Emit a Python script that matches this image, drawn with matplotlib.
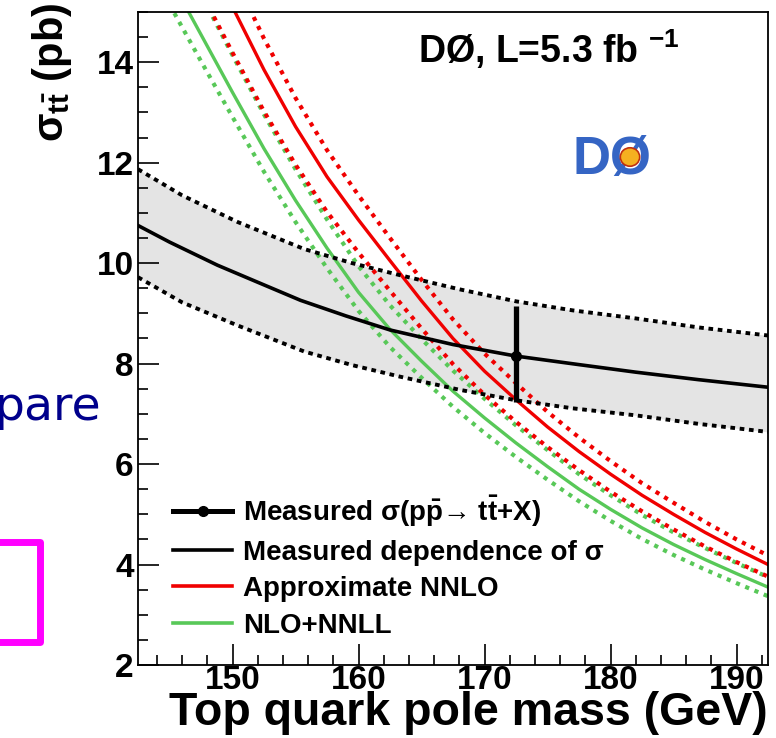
import matplotlib
matplotlib.use("Agg")
import matplotlib.pyplot as plt
from matplotlib.lines import Line2D
from matplotlib.patches import Rectangle, Circle

plt.rcParams['font.family'] = ['Liberation Sans', 'DejaVu Sans']
plt.rcParams['font.weight'] = 'bold'
plt.rcParams['mathtext.fontset'] = 'custom'
plt.rcParams['mathtext.rm'] = 'Liberation Sans:bold'
plt.rcParams['mathtext.bf'] = 'Liberation Sans:bold'
plt.rcParams['mathtext.it'] = 'Liberation Sans:bold'

# ---------------- data ----------------
# measured dependence of sigma on mt (central and band edges)
meas_mass = [142.5, 145, 148.8, 152, 155.4, 159, 162.5, 167.5, 172.5, 177.5, 182, 187, 192.5]
meas_sigma = [10.75, 10.42, 9.96, 9.62, 9.26, 8.95, 8.67, 8.38, 8.15, 7.98, 7.83, 7.68, 7.53]
band_mass = [142.5, 146, 150.4, 155.7, 159.5, 163.3, 168, 172.5, 177, 182, 187, 192.5]
band_upper = [11.87, 11.35, 10.82, 10.28, 10.0, 9.76, 9.48, 9.24, 9.06, 8.90, 8.72, 8.56]
band_lower = [9.72, 9.22, 8.76, 8.24, 7.97, 7.74, 7.48, 7.27, 7.11, 6.97, 6.80, 6.64]

# measured point
point_mass = 172.5
point_sigma = 8.15
point_err_up = 0.99
point_err_down = 0.91

# theory predictions
th_mass = [145, 147.5, 150, 152.5, 155, 157.5, 160, 162.5, 165, 167.5, 170,
           172.5, 175, 177.5, 180, 182.5, 185, 187.5, 190, 192.5]
nnlo = [17.8, 16.4, 15.1, 13.85, 12.72, 11.72, 10.86, 10.05, 9.25, 8.5, 7.85,
        7.28, 6.74, 6.25, 5.8, 5.38, 5.0, 4.64, 4.31, 4.0]
nnlo_up = [18.6, 17.1, 15.78, 14.47, 13.29, 12.25, 11.35, 10.50, 9.67, 8.88, 8.20,
           7.61, 7.04, 6.53, 6.06, 5.62, 5.23, 4.85, 4.50, 4.18]
nnlo_down = [16.7, 15.4, 14.19, 13.02, 11.96, 11.02, 10.21, 9.45, 8.70, 7.99, 7.38,
             6.84, 6.34, 5.88, 5.45, 5.06, 4.70, 4.36, 4.05, 3.76]
nnll = [15.7, 14.55, 13.4, 12.28, 11.25, 10.3, 9.42, 8.68, 8.05, 7.45, 6.92,
        6.42, 5.95, 5.5, 5.1, 4.73, 4.4, 4.1, 3.82, 3.55]
nnll_up = [16.56, 15.35, 14.14, 12.96, 11.87, 10.87, 9.94, 9.16, 8.49, 7.86, 7.30,
           6.77, 6.28, 5.80, 5.38, 4.99, 4.64, 4.33, 4.03, 3.75]
nnll_down = [15.15, 14.02, 12.91, 11.82, 10.82, 9.90, 9.05, 8.33, 7.72, 7.14, 6.62,
             6.14, 5.69, 5.26, 4.87, 4.51, 4.19, 3.90, 3.63, 3.37]

legend_labels = ['Measured σ(p$\\bar{\\mathrm{p}}$\u2192 t$\\bar{\\mathrm{t}}$+X)',
                 'Measured dependence of σ',
                 'Approximate NNLO',
                 'NLO+NNLL']
x_ticks = [150, 160, 170, 180, 190]
y_ticks = [2, 4, 6, 8, 10, 12, 14]

RED = '#f00000'
GREEN = '#58c858'

# ---------------- figure ----------------
W, H = 776, 738
fig = plt.figure(figsize=(W / 100, H / 100), dpi=100)
ax = fig.add_axes([138 / W, 1 - 665 / H, 630 / W, 653 / H])
ax.set_xlim(142.5, 192.5)
ax.set_ylim(2, 15)

ax.fill_between(band_mass, band_lower, band_upper, color='#e4e4e4', lw=0, zorder=1)
dash_k = (0, (1.2, 1.2))
ax.plot(band_mass, band_upper, color='black', lw=2.8, ls=dash_k, zorder=3)
ax.plot(band_mass, band_lower, color='black', lw=2.8, ls=dash_k, zorder=3)
ax.plot(meas_mass, meas_sigma, color='black', lw=2.6, zorder=4)

dot = (0, (1.0, 1.4))
ax.plot(th_mass, nnll_up, color=GREEN, lw=3.0, ls=dot, zorder=2)
ax.plot(th_mass, nnll_down, color=GREEN, lw=3.0, ls=dot, zorder=2)
ax.plot(th_mass, nnll, color=GREEN, lw=2.4, zorder=2)
ax.plot(th_mass, nnlo_up, color=RED, lw=3.0, ls=dot, zorder=2)
ax.plot(th_mass, nnlo_down, color=RED, lw=3.0, ls=dot, zorder=2)
ax.plot(th_mass, nnlo, color=RED, lw=2.4, zorder=2)

ax.errorbar([point_mass], [point_sigma], yerr=[[point_err_down], [point_err_up]],
            fmt='o', color='black', ms=7, elinewidth=3.8, capsize=0, zorder=5)

# axes styling
ax.set_xticks(x_ticks)
ax.set_yticks(y_ticks)
ax.set_xticks([x for x in range(144, 193, 2)], minor=True)
ax.set_yticks([2 + 0.5 * i for i in range(27)], minor=True)
ax.tick_params(which='both', direction='in', top=False, right=False, width=1.2)
ax.tick_params(which='major', length=15, labelsize=24)
ax.tick_params(axis='x', which='major', pad=0)
ax.tick_params(axis='y', which='major', pad=3)
ax.tick_params(which='minor', length=7.5)
for lab in ax.get_xticklabels() + ax.get_yticklabels():
    lab.set_fontweight('bold')
for s in ax.spines.values():
    s.set_linewidth(1.3)

ax.set_xlabel('Top quark pole mass (GeV)', fontsize=33.5, fontweight='bold',
              ha='right', va='top')
ax.xaxis.set_label_coords(1.0, -0.040)

fig.text(52 / W, 1 - 3 / H, r'$\mathrm{\sigma}_{\mathrm{t\bar{t}}}$ (pb)', rotation=90,
         ha='center', va='top', fontsize=30, fontweight='bold')

fig.text(418 / W, 1 - 63 / H, r'DØ, L=5.3 fb $^{\mathrm{-1}}$', fontsize=27,
         fontweight='bold', ha='left', va='baseline')

# DØ logo approximation
fig.text(612 / W, 1 - 160 / H, 'DØ', fontsize=38, fontweight='bold', color='#3565c4',
         ha='center', va='center')
fig.add_artist(Circle((630 / W, 1 - 157 / H), 0.0125, transform=fig.transFigure,
                      facecolor='#f5b020', edgecolor='#c03010', lw=1.2, zorder=5))

handles = [Line2D([], [], color='black', lw=3.6, marker='o', ms=7),
           Line2D([], [], color='black', lw=2.6),
           Line2D([], [], color=RED, lw=2.6),
           Line2D([], [], color=GREEN, lw=2.6)]
leg = ax.legend(handles, legend_labels, loc='upper left', bbox_to_anchor=(0.055, 0.262),
                frameon=False, fontsize=20, handlelength=2.15, handletextpad=0.4,
                labelspacing=0.38, borderpad=0, borderaxespad=0)
for t in leg.get_texts():
    t.set_fontweight('bold')

# slide remnants to the left of the plot
fig.text(101 / W, 1 - 420 / H, 'pare', fontsize=34, color='#00008c',
         family='DejaVu Sans', fontweight='normal', ha='right', va='baseline')
fig.add_artist(Rectangle((-10 / W, 1 - 642 / H), 50 / W, 100 / H,
                         transform=fig.transFigure, fill=False,
                         edgecolor='#ff00ff', lw=5, joinstyle='round'))

fig.savefig('out.png', dpi=100)
